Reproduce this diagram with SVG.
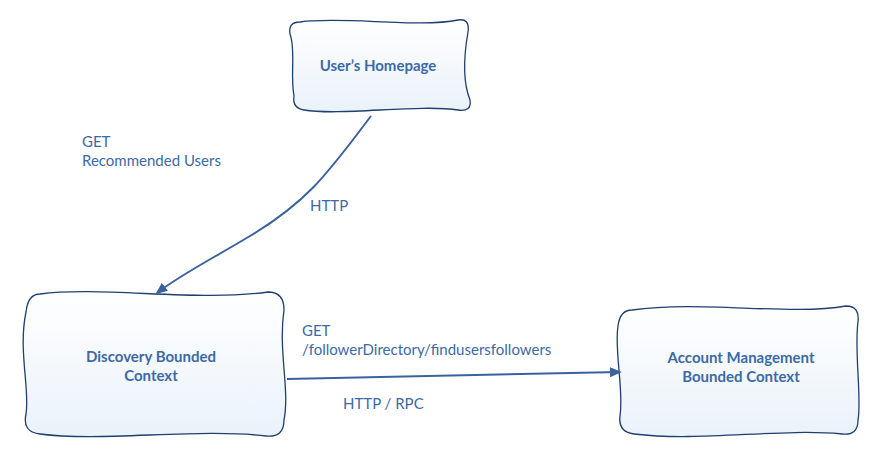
<svg xmlns="http://www.w3.org/2000/svg" width="880" height="465" viewBox="0 0 880 465">
<style>
.box{fill:url(#g);stroke:#1f3f6e;stroke-width:1.3}
.nt{font-family:Lato,"Open Sans",sans-serif;font-size:15px;font-weight:bold;fill:#3b6aa6;text-anchor:middle}
.lb{font-family:Lato,"Open Sans",sans-serif;font-size:15px;fill:#3b6aa6}
.ed{fill:none;stroke:#3a62a0;stroke-width:2}
</style>
<defs>
<linearGradient id="g" x1="0" y1="0" x2="0" y2="1"><stop offset="0" stop-color="#ffffff"/><stop offset="1" stop-color="#eaf2fa"/></linearGradient>
<marker id="ah" markerWidth="12" markerHeight="10" refX="10" refY="5" orient="auto" markerUnits="userSpaceOnUse"><path d="M0,0 L12,5 L0,10 Z" fill="#3a62a0"/></marker>
</defs>
<g id="homepage">
<path class="box" d="M300,22 C340,16 420,28 458,20 Q470,18 468,32 C464,55 462,80 470,100 Q472,112 458,110 C420,104 340,116 304,110 Q292,108 294,96 C290,75 296,50 290,34 Q288,22 300,22 Z"/>
<text class="nt" x="378" y="71">User’s Homepage</text>
<text/>
</g>
<g id="discovery">
<path class="box" d="M40,294 C100,286 200,302 268,292 Q284,292 284,310 C278,350 290,390 284,420 Q284,438 266,436 C200,428 100,442 40,434 Q22,432 26,414 C30,390 18,350 26,312 Q28,294 40,294 Z"/>
<text class="nt" x="151" y="362">Discovery Bounded</text>
<text class="nt" x="151" y="381">Context</text>
</g>
<g id="account">
<path class="box" d="M632,310 C700,300 790,316 846,306 Q860,306 858,322 C854,350 862,400 858,420 Q858,436 842,434 C780,428 700,442 634,434 Q618,432 620,416 C624,390 614,350 618,326 Q620,310 632,310 Z"/>
<text class="nt" x="741" y="363">Account Management</text>
<text class="nt" x="741" y="382">Bounded Context</text>
</g>
<g id="connectors">
<path class="ed" d="M371,116 C330,170 310,200 250,236 C210,260 180,275 157,293" marker-end="url(#ah)"/>
<path class="ed" d="M287,379 L620,372" marker-end="url(#ah)"/>
<text class="lb" x="82" y="147">GET</text>
<text class="lb" x="82" y="166">Recommended Users</text>
<text class="lb" x="310" y="211">HTTP</text>
<text class="lb" x="302" y="336">GET</text>
<text class="lb" x="302" y="355">/followerDirectory/findusersfollowers</text>
<text class="lb" x="343" y="409">HTTP / RPC</text>
</g>
</svg>
